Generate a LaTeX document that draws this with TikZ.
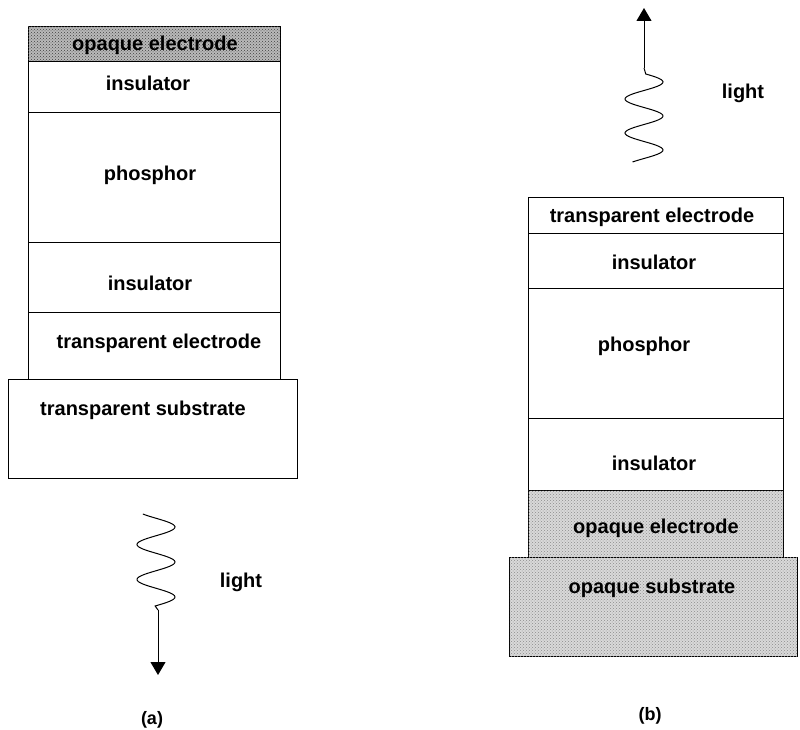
\documentclass[tikz,border=0pt]{standalone}
\usepackage{fontspec}
\setmainfont{Liberation Sans}
\usetikzlibrary{arrows.meta,patterns}
\begin{document}
\begin{tikzpicture}[x=1pt,y=-1pt,
  layer/.style={draw=black,line width=1pt,anchor=north west,inner sep=0pt,outer sep=0pt},
  darkfill/.style={fill=gray!55,postaction={pattern=crosshatch dots,pattern color=black!75}},
  lightfill/.style={fill=gray!30,postaction={pattern=crosshatch dots,pattern color=black!45}},
  lbl/.style={font=\fontsize{20}{23}\selectfont\bfseries,inner sep=0pt},
  captext/.style={font=\fontsize{18}{21}\selectfont\bfseries,inner sep=0pt},
  wave/.style={line width=1pt},
  ray/.style={line width=1pt,-{Triangle[width=15pt,length=13pt]}}]
\useasboundingbox (0,0) rectangle (800,730);
% ---------- (a) ----------
\node[layer,darkfill,minimum width=252pt,minimum height=35pt] (aoe) at (28,27) {};
\node[layer,minimum width=252pt,minimum height=51pt] (ai1) at (28,62) {};
\node[layer,minimum width=252pt,minimum height=129pt] (aph) at (28,113) {};
\node[layer,minimum width=252pt,minimum height=70pt] (ai2) at (28,242) {};
\node[layer,minimum width=252pt,minimum height=67pt] (ate) at (28,312) {};
\node[layer,minimum width=289pt,minimum height=99pt] (asub) at (8,379) {};
\node[lbl] (taoe) at (155,45) {opaque electrode};
\node[lbl] (tai1) at (148,83) {insulator};
\node[lbl] (taph) at (150,175) {phosphor};
\node[lbl] (tai2) at (150,283) {insulator};
\node[lbl] (tate) at (159,343) {transparent electrode};
\node[lbl] (tasub) at (143,410) {transparent substrate};
\coordinate (aw0) at (158,610);
\coordinate (aw1) at (158,675);
\draw[wave] plot[domain=514:606,samples=80,smooth] ({156+19*sin((\x-527)/35*360+90)},\x) -- (aw0);
\draw[ray] (aw0) -- (aw1);
\node[lbl] (alight) at (241,582) {light};
\node[captext] (acap) at (152,720) {(a)};
% ---------- (b) ----------
\node[layer,minimum width=255pt,minimum height=35pt] (bte) at (528,198) {};
\node[layer,minimum width=255pt,minimum height=55pt] (bi1) at (528,233) {};
\node[layer,minimum width=255pt,minimum height=130pt] (bph) at (528,288) {};
\node[layer,minimum width=255pt,minimum height=72pt] (bi2) at (528,418) {};
\node[layer,lightfill,minimum width=255pt,minimum height=67pt] (boe) at (528,490) {};
\node[layer,lightfill,minimum width=288pt,minimum height=99pt] (bsub) at (509,557) {};
\node[lbl] (tbte) at (652,217) {transparent electrode};
\node[lbl] (tbi1) at (654,262) {insulator};
\node[lbl] (tbph) at (644,346) {phosphor};
\node[lbl] (tbi2) at (654,463) {insulator};
\node[lbl] (tboe) at (656,528) {opaque electrode};
\node[lbl] (tbsub) at (652,588) {opaque substrate};
\coordinate (bw0) at (644,68);
\coordinate (bw1) at (644,8);
\draw[wave] (bw0) -- plot[domain=74:162,samples=80,smooth] ({644+19*sin((\x-82)/34*360+90)},\x);
\draw[ray] (bw0) -- (bw1);
\node[lbl] (blight) at (743,93) {light};
\node[captext] (bcap) at (650,716) {(b)};
\end{tikzpicture}
\end{document}
